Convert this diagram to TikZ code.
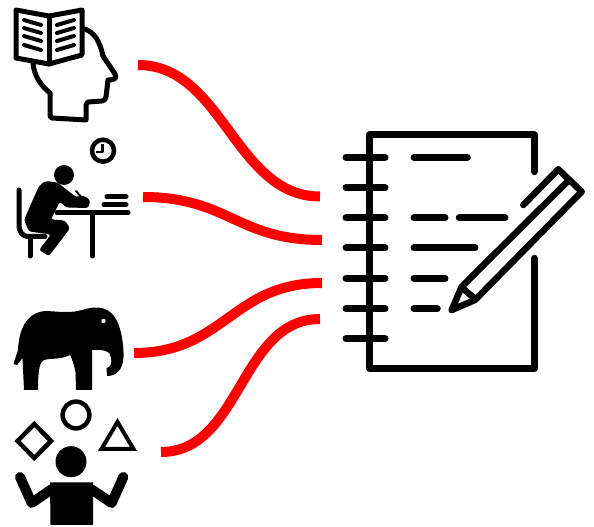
\documentclass[tikz,border=0pt]{standalone}
\usepackage{tikz}
\begin{document}
\begin{tikzpicture}[
  x = 0.75pt, y = -0.75pt,
  ink/.style   = {draw=black, line width=#1*0.75pt, line cap=round, line join=round},
  ink/.default = 5,
  solid/.style = {fill=black, draw=none},
  link/.style  = {draw=red, line width=7.5pt},
]
\useasboundingbox (0,0) rectangle (594,527);

% connector ends
\coordinate (reader)   at (138,65);
\coordinate (writer)   at (143,197);
\coordinate (elephant) at (134,353);
\coordinate (juggler)  at (161,452);
\coordinate (slotA)    at (320,196.5);
\coordinate (slotB)    at (322,240);
\coordinate (slotC)    at (322,283);
\coordinate (slotD)    at (320,319);

% reader
\draw[ink=5] (16,10) -- (49,16) -- (82,10) -- (82,55) -- (49,64) -- (16,58) -- cycle;
\draw[ink=5] (49,16) -- (49,64);
\draw[ink=4] (24,20) -- (41,25) (24,28) -- (41,33) (24,36) -- (41,41) (24,45) -- (41,50)
             (57,25) -- (74,20) (57,33) -- (74,28) (57,41) -- (74,36) (57,50) -- (74,45);
\draw[ink=5] (85,29) .. controls (95,33) and (100,42) .. (103,56)
  -- (115,74) .. controls (118,79) and (113,80) .. (108,80)
  -- (106,97) .. controls (106,100) and (104,100) .. (102,101)
  -- (88,102) -- (86,105) -- (86,120) -- (52,118) -- (50,116) -- (50,93)
  .. controls (40,85) and (34,75) .. (33,63);

% writer
\draw[ink=4.5] (103,150.7) circle (11);
\draw[ink=2.5, line cap=butt] (102.5,144) -- (102.5,152) -- (96,152);
\fill (64,175) circle (10);
\path[solid, rounded corners=2pt] (45.5,181) -- (57.5,182.5) -- (76,197) -- (83.3,195.5)
  -- (90.3,200) -- (88.3,208) -- (66,207.5) -- (60,201.5) -- (51,219.5) -- (65,220.5)
  -- (70,228.3) -- (49,256) -- (39,250) -- (51,234.5) -- (29,231.5) -- (24,220) -- (39,186) -- cycle;
\draw[ink=2] (76,191) -- (82,198);
\draw[ink] (19,190) -- (19,224) .. controls (19,232) and (22,236.5) .. (29,236.5) -- (45,236.5);
\draw[ink] (30,236.5) -- (30,256);
\draw[ink] (57,212.7) -- (128,212.7);
\draw[ink] (92.3,212.7) -- (92.3,256);
\draw[ink] (107,196.7) -- (126,196.7);
\draw[ink] (104,204.7) -- (126,204.7);

% elephant
\path[solid] (24,390) -- (22.5,358) -- (17,365) -- (13.5,364) -- (18,350)
  .. controls (19,325) and (30,311) .. (47,311)
  .. controls (62,312) and (72,313) .. (82,310)
  .. controls (95,306) and (106,306) .. (114,316)
  .. controls (121,325) and (124,345) .. (123.5,357)
  .. controls (123,370) and (116,376) .. (107,376)
  -- (106.5,368) .. controls (111,367) and (112,363) .. (111,358)
  .. controls (111,352) and (105,349) .. (92,350)
  -- (92,390) -- (76,390) -- (75.5,372)
  .. controls (74,365) and (72,358) .. (70,355)
  .. controls (60,360) and (50,358) .. (44,360)
  .. controls (40,362) and (38,368) .. (38,390) -- cycle;
\fill[white] (103.5,321) circle (2.2);

% juggler
\draw[ink=4.5] (76,415) circle (13.4);
\draw[ink=4.5, line join=miter] (34.3,424) -- (51,441) -- (34.3,458) -- (17.6,441) -- cycle;
\draw[ink=4, line join=miter] (117.5,422) -- (133.5,449) -- (101.5,449) -- cycle;
\fill (71,461.7) circle (15.5);
\path[solid] (50,482.5) -- (93,482.5) -- (93,525) -- (50.5,525) -- cycle;
\draw[ink=10] (20,477) -- (31.7,503) -- (52,489);
\draw[ink=10] (123.3,477) -- (111.7,503) -- (91,489);

% notebook
\draw[ink=7] (534.3,171.7) -- (534.3,135) -- (369.3,135) -- (369.3,368.3) -- (534.3,368.3) -- (534.3,258.3);
\draw[ink=7] (346,157.3) -- (385,157.3);
\draw[ink=7] (346,187.7) -- (385,187.7);
\draw[ink=7] (346,218)   -- (385,218);
\draw[ink=7] (346,248)   -- (385,248);
\draw[ink=7] (346,278.3) -- (385,278.3);
\draw[ink=7] (346,308.7) -- (385,308.7);
\draw[ink=7] (346,338.7) -- (385,338.7);
\draw[ink=7] (414,157.3) -- (467.3,157.3);
\draw[ink=7] (414,218)   -- (445,218);
\draw[ink=7] (459.3,218) -- (505,218);
\draw[ink=7] (414,248)   -- (475,248);
\draw[ink=7] (414,278.3) -- (445,278.3);
\draw[ink=7] (414,308.7) -- (437.3,308.7);

% pencil
\draw[ink=6.5] (523.3,205) -- (558.3,169.3) -- (581.7,191.7) -- (475,300) -- (451.7,310) -- (461.7,286.7) -- (568.3,180.7);
\draw[ink=6.5, line cap=butt] (462.7,288.3) -- (474.3,298.3);

% connectors
\draw[link] (reader)   .. controls +(85,0)  and +(-85,0) .. (slotA);
\draw[link] (writer)   .. controls +(85,0)  and +(-85,0) .. (slotB);
\draw[link] (elephant) .. controls +(90,0)  and +(-90,0) .. (slotC);
\draw[link] (juggler)  .. controls +(80,0)  and +(-80,0) .. (slotD);
\end{tikzpicture}
\end{document}
